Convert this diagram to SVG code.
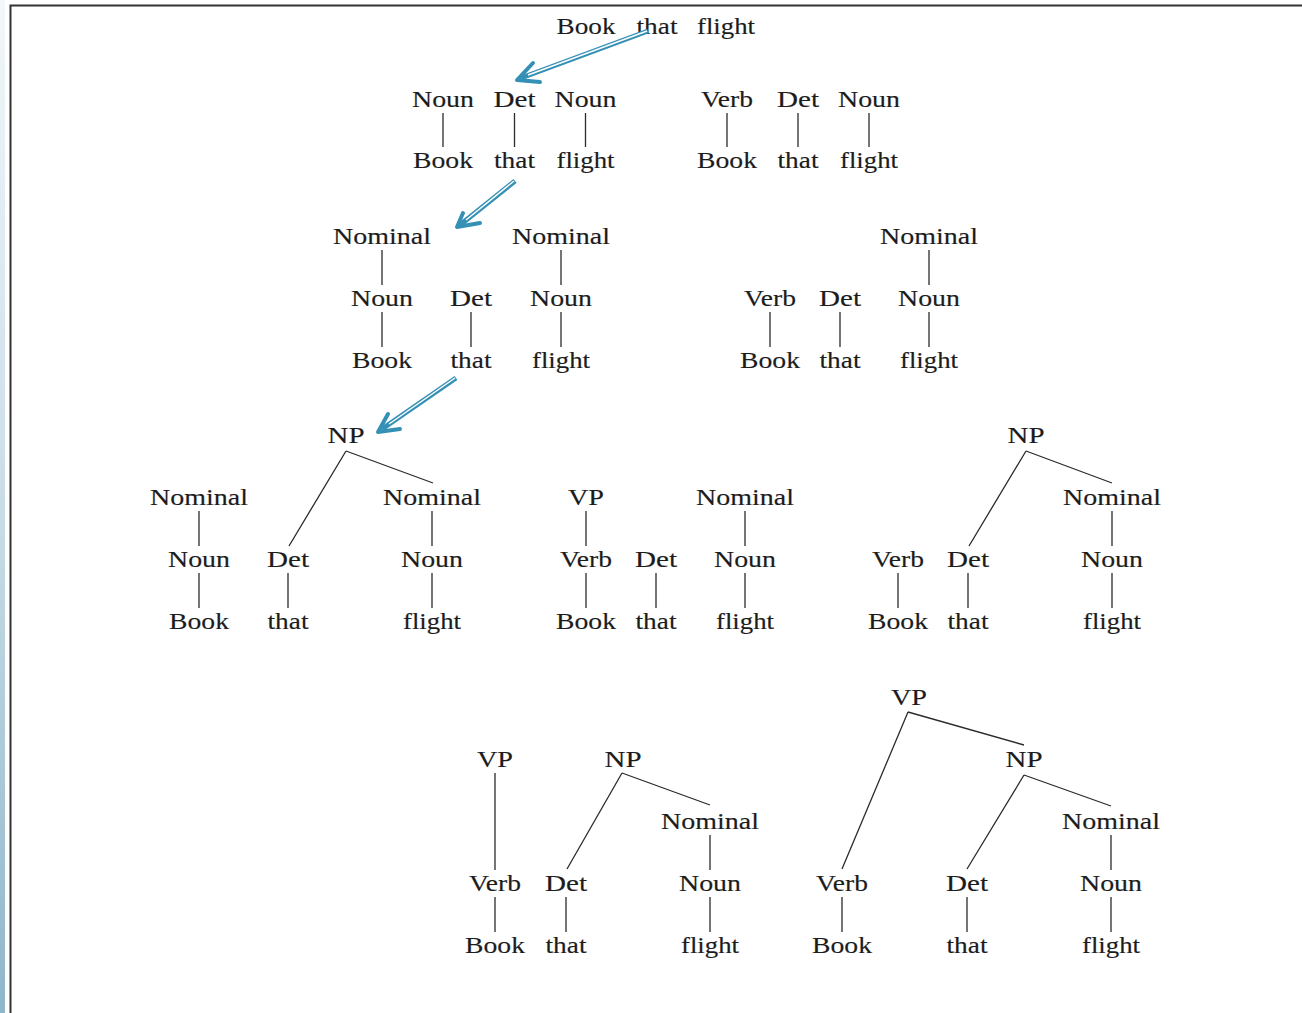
<svg xmlns="http://www.w3.org/2000/svg" width="1302" height="1013" viewBox="0 0 1302 1013">
  <defs>
    <linearGradient id="edge" x1="0" y1="0" x2="0" y2="1">
      <stop offset="0" stop-color="#f2f7fa"/>
      <stop offset="0.5" stop-color="#c9dde7"/>
      <stop offset="1" stop-color="#8fb6c9"/>
    </linearGradient>
    <style>
      .t { font-family: "Liberation Serif", "Times New Roman", serif; font-size: 23px; fill: #1c1c1c; text-anchor: middle; stroke: #1c1c1c; stroke-width: 0.15; }
      .e { stroke: #2b2b2b; stroke-width: 1.3; fill: none; }
      .frame { stroke: #333; fill: none; }
      .shaft { stroke: #3590b5; stroke-width: 5; fill: none; }
      .gap { stroke: #ffffff; stroke-width: 1.4; fill: none; }
      .head { stroke: #3590b5; stroke-width: 4; fill: none; stroke-linecap: round; stroke-linejoin: round; }
    </style>
  </defs>

  <!-- page background, side strip and frame -->
  <rect width="1302" height="1013" fill="#ffffff"/>
  <rect x="0" y="0" width="5" height="1013" fill="url(#edge)"/>
  <path class="frame" d="M10.5 1013 V5.5 H1302" stroke-width="2"/>

  <!-- input sentence -->
  <g id="sentence">
    <text class="t" x="586" y="34" textLength="59" lengthAdjust="spacingAndGlyphs">Book</text>
    <text class="t" x="657" y="34" textLength="41" lengthAdjust="spacingAndGlyphs">that</text>
    <text class="t" x="726" y="34" textLength="58" lengthAdjust="spacingAndGlyphs">flight</text>
  </g>

  <!-- stage 1: lexical categories -->
  <g id="s1a">
    <g id="s1a-noun1"><text class="t" x="443" y="107" textLength="62" lengthAdjust="spacingAndGlyphs">Noun</text></g>
    <g id="s1a-det"><text class="t" x="514.5" y="107" textLength="42" lengthAdjust="spacingAndGlyphs">Det</text></g>
    <g id="s1a-noun2"><text class="t" x="585.5" y="107" textLength="62" lengthAdjust="spacingAndGlyphs">Noun</text></g>
    <g id="s1a-book"><text class="t" x="443" y="168" textLength="60" lengthAdjust="spacingAndGlyphs">Book</text></g>
    <g id="s1a-that"><text class="t" x="514.5" y="168" textLength="41" lengthAdjust="spacingAndGlyphs">that</text></g>
    <g id="s1a-flight"><text class="t" x="585.5" y="168" textLength="58" lengthAdjust="spacingAndGlyphs">flight</text></g>
  </g>
  <g id="s1b">
    <g id="s1b-verb"><text class="t" x="727" y="107" textLength="52" lengthAdjust="spacingAndGlyphs">Verb</text></g>
    <g id="s1b-det"><text class="t" x="798" y="107" textLength="42" lengthAdjust="spacingAndGlyphs">Det</text></g>
    <g id="s1b-noun"><text class="t" x="869" y="107" textLength="62" lengthAdjust="spacingAndGlyphs">Noun</text></g>
    <g id="s1b-book"><text class="t" x="727" y="168" textLength="60" lengthAdjust="spacingAndGlyphs">Book</text></g>
    <g id="s1b-that"><text class="t" x="798" y="168" textLength="41" lengthAdjust="spacingAndGlyphs">that</text></g>
    <g id="s1b-flight"><text class="t" x="869" y="168" textLength="58" lengthAdjust="spacingAndGlyphs">flight</text></g>
  </g>

  <!-- stage 2: Nominal -> Noun -->
  <g id="s2a">
    <g id="s2a-nominal1"><text class="t" x="382" y="244" textLength="98" lengthAdjust="spacingAndGlyphs">Nominal</text></g>
    <g id="s2a-nominal2"><text class="t" x="561" y="244" textLength="98" lengthAdjust="spacingAndGlyphs">Nominal</text></g>
    <g id="s2a-noun1"><text class="t" x="382" y="306" textLength="62" lengthAdjust="spacingAndGlyphs">Noun</text></g>
    <g id="s2a-det"><text class="t" x="471" y="306" textLength="42" lengthAdjust="spacingAndGlyphs">Det</text></g>
    <g id="s2a-noun2"><text class="t" x="561" y="306" textLength="62" lengthAdjust="spacingAndGlyphs">Noun</text></g>
    <g id="s2a-book"><text class="t" x="382" y="368" textLength="60" lengthAdjust="spacingAndGlyphs">Book</text></g>
    <g id="s2a-that"><text class="t" x="471" y="368" textLength="41" lengthAdjust="spacingAndGlyphs">that</text></g>
    <g id="s2a-flight"><text class="t" x="561" y="368" textLength="58" lengthAdjust="spacingAndGlyphs">flight</text></g>
  </g>
  <g id="s2b">
    <g id="s2b-nominal"><text class="t" x="929" y="244" textLength="98" lengthAdjust="spacingAndGlyphs">Nominal</text></g>
    <g id="s2b-verb"><text class="t" x="770" y="306" textLength="52" lengthAdjust="spacingAndGlyphs">Verb</text></g>
    <g id="s2b-det"><text class="t" x="840" y="306" textLength="42" lengthAdjust="spacingAndGlyphs">Det</text></g>
    <g id="s2b-noun"><text class="t" x="929" y="306" textLength="62" lengthAdjust="spacingAndGlyphs">Noun</text></g>
    <g id="s2b-book"><text class="t" x="770" y="368" textLength="60" lengthAdjust="spacingAndGlyphs">Book</text></g>
    <g id="s2b-that"><text class="t" x="840" y="368" textLength="41" lengthAdjust="spacingAndGlyphs">that</text></g>
    <g id="s2b-flight"><text class="t" x="929" y="368" textLength="58" lengthAdjust="spacingAndGlyphs">flight</text></g>
  </g>

  <!-- stage 3: NP and VP constituents -->
  <g id="s3a">
    <g id="s3a-np"><text class="t" x="346" y="443" textLength="37" lengthAdjust="spacingAndGlyphs">NP</text></g>
    <g id="s3a-nominal1"><text class="t" x="199" y="505" textLength="98" lengthAdjust="spacingAndGlyphs">Nominal</text></g>
    <g id="s3a-nominal2"><text class="t" x="432" y="505" textLength="98" lengthAdjust="spacingAndGlyphs">Nominal</text></g>
    <g id="s3a-noun1"><text class="t" x="199" y="567" textLength="62" lengthAdjust="spacingAndGlyphs">Noun</text></g>
    <g id="s3a-det"><text class="t" x="288" y="567" textLength="42" lengthAdjust="spacingAndGlyphs">Det</text></g>
    <g id="s3a-noun2"><text class="t" x="432" y="567" textLength="62" lengthAdjust="spacingAndGlyphs">Noun</text></g>
    <g id="s3a-book"><text class="t" x="199" y="629" textLength="60" lengthAdjust="spacingAndGlyphs">Book</text></g>
    <g id="s3a-that"><text class="t" x="288" y="629" textLength="41" lengthAdjust="spacingAndGlyphs">that</text></g>
    <g id="s3a-flight"><text class="t" x="432" y="629" textLength="58" lengthAdjust="spacingAndGlyphs">flight</text></g>
  </g>
  <g id="s3b">
    <g id="s3b-vp"><text class="t" x="586" y="505" textLength="36" lengthAdjust="spacingAndGlyphs">VP</text></g>
    <g id="s3b-nominal"><text class="t" x="745" y="505" textLength="98" lengthAdjust="spacingAndGlyphs">Nominal</text></g>
    <g id="s3b-verb"><text class="t" x="586" y="567" textLength="52" lengthAdjust="spacingAndGlyphs">Verb</text></g>
    <g id="s3b-det"><text class="t" x="656" y="567" textLength="42" lengthAdjust="spacingAndGlyphs">Det</text></g>
    <g id="s3b-noun"><text class="t" x="745" y="567" textLength="62" lengthAdjust="spacingAndGlyphs">Noun</text></g>
    <g id="s3b-book"><text class="t" x="586" y="629" textLength="60" lengthAdjust="spacingAndGlyphs">Book</text></g>
    <g id="s3b-that"><text class="t" x="656" y="629" textLength="41" lengthAdjust="spacingAndGlyphs">that</text></g>
    <g id="s3b-flight"><text class="t" x="745" y="629" textLength="58" lengthAdjust="spacingAndGlyphs">flight</text></g>
  </g>
  <g id="s3c">
    <g id="s3c-np"><text class="t" x="1026" y="443" textLength="37" lengthAdjust="spacingAndGlyphs">NP</text></g>
    <g id="s3c-nominal"><text class="t" x="1112" y="505" textLength="98" lengthAdjust="spacingAndGlyphs">Nominal</text></g>
    <g id="s3c-verb"><text class="t" x="898" y="567" textLength="52" lengthAdjust="spacingAndGlyphs">Verb</text></g>
    <g id="s3c-det"><text class="t" x="968" y="567" textLength="42" lengthAdjust="spacingAndGlyphs">Det</text></g>
    <g id="s3c-noun"><text class="t" x="1112" y="567" textLength="62" lengthAdjust="spacingAndGlyphs">Noun</text></g>
    <g id="s3c-book"><text class="t" x="898" y="629" textLength="60" lengthAdjust="spacingAndGlyphs">Book</text></g>
    <g id="s3c-that"><text class="t" x="968" y="629" textLength="41" lengthAdjust="spacingAndGlyphs">that</text></g>
    <g id="s3c-flight"><text class="t" x="1112" y="629" textLength="58" lengthAdjust="spacingAndGlyphs">flight</text></g>
  </g>

  <!-- stage 4: VP + NP, and the complete VP -->
  <g id="s4a">
    <g id="s4a-vp"><text class="t" x="495" y="767" textLength="36" lengthAdjust="spacingAndGlyphs">VP</text></g>
    <g id="s4a-np"><text class="t" x="623" y="767" textLength="37" lengthAdjust="spacingAndGlyphs">NP</text></g>
    <g id="s4a-nominal"><text class="t" x="710" y="829" textLength="98" lengthAdjust="spacingAndGlyphs">Nominal</text></g>
    <g id="s4a-verb"><text class="t" x="495" y="891" textLength="52" lengthAdjust="spacingAndGlyphs">Verb</text></g>
    <g id="s4a-det"><text class="t" x="566" y="891" textLength="42" lengthAdjust="spacingAndGlyphs">Det</text></g>
    <g id="s4a-noun"><text class="t" x="710" y="891" textLength="62" lengthAdjust="spacingAndGlyphs">Noun</text></g>
    <g id="s4a-book"><text class="t" x="495" y="953" textLength="60" lengthAdjust="spacingAndGlyphs">Book</text></g>
    <g id="s4a-that"><text class="t" x="566" y="953" textLength="41" lengthAdjust="spacingAndGlyphs">that</text></g>
    <g id="s4a-flight"><text class="t" x="710" y="953" textLength="58" lengthAdjust="spacingAndGlyphs">flight</text></g>
  </g>
  <g id="s4b">
    <g id="s4b-vp"><text class="t" x="909" y="705" textLength="36" lengthAdjust="spacingAndGlyphs">VP</text></g>
    <g id="s4b-np"><text class="t" x="1024" y="767" textLength="37" lengthAdjust="spacingAndGlyphs">NP</text></g>
    <g id="s4b-nominal"><text class="t" x="1111" y="829" textLength="98" lengthAdjust="spacingAndGlyphs">Nominal</text></g>
    <g id="s4b-verb"><text class="t" x="842" y="891" textLength="52" lengthAdjust="spacingAndGlyphs">Verb</text></g>
    <g id="s4b-det"><text class="t" x="967" y="891" textLength="42" lengthAdjust="spacingAndGlyphs">Det</text></g>
    <g id="s4b-noun"><text class="t" x="1111" y="891" textLength="62" lengthAdjust="spacingAndGlyphs">Noun</text></g>
    <g id="s4b-book"><text class="t" x="842" y="953" textLength="60" lengthAdjust="spacingAndGlyphs">Book</text></g>
    <g id="s4b-that"><text class="t" x="967" y="953" textLength="41" lengthAdjust="spacingAndGlyphs">that</text></g>
    <g id="s4b-flight"><text class="t" x="1111" y="953" textLength="58" lengthAdjust="spacingAndGlyphs">flight</text></g>
  </g>

  <!-- tree branches -->
  <g id="edges" class="e">
    <!-- stage 1 -->
    <path d="M443 113 V147 M514.5 113 V147 M585.5 113 V147 M727 113 V147 M798 113 V147 M869 113 V147"/>
    <!-- stage 2 -->
    <path d="M382 250 V285 M561 250 V285 M929 250 V285"/>
    <path d="M382 312 V347 M471 312 V347 M561 312 V347 M770 312 V347 M840 312 V347 M929 312 V347"/>
    <!-- stage 3 -->
    <path d="M346 451 L289 546 M346 451 L433 483 M1026 451 L969 546 M1026 451 L1112 483"/>
    <path d="M199 511 V546 M432 511 V546 M586 511 V546 M745 511 V546 M1112 511 V546"/>
    <path d="M199 573 V608 M288 573 V608 M432 573 V608 M586 573 V608 M656 573 V608 M745 573 V608 M898 573 V608 M968 573 V608 M1112 573 V608"/>
    <!-- stage 4 -->
    <path d="M495 773 V870 M622 773 L567 869 M622 773 L710 805 M710 835 V870"/>
    <path d="M908 712 L842 869 M908 712 L1024 745 M1024 775 L967 869 M1024 775 L1111 806 M1111 835 V870"/>
    <path d="M495 897 V932 M566 897 V932 M710 897 V932 M842 897 V932 M967 897 V932 M1111 897 V932"/>
  </g>

  <!-- derivation arrows (double-line shafts) -->
  <g id="arrows">
    <g id="arrow1">
      <path class="shaft" d="M648 31 L521 78"/>
      <path class="gap" d="M647 31 L528 75"/>
      <path class="head" d="M533 63 L517 80 L540 82"/>
    </g>
    <g id="arrow2">
      <path class="shaft" d="M515 181 L460 225"/>
      <path class="gap" d="M514 181 L466 220"/>
      <path class="head" d="M463 213 L457 227 L480 223"/>
    </g>
    <g id="arrow3">
      <path class="shaft" d="M456 378 L382 429"/>
      <path class="gap" d="M455 378 L389 424"/>
      <path class="head" d="M388 414 L378 432 L400 429"/>
    </g>
  </g>
</svg>
